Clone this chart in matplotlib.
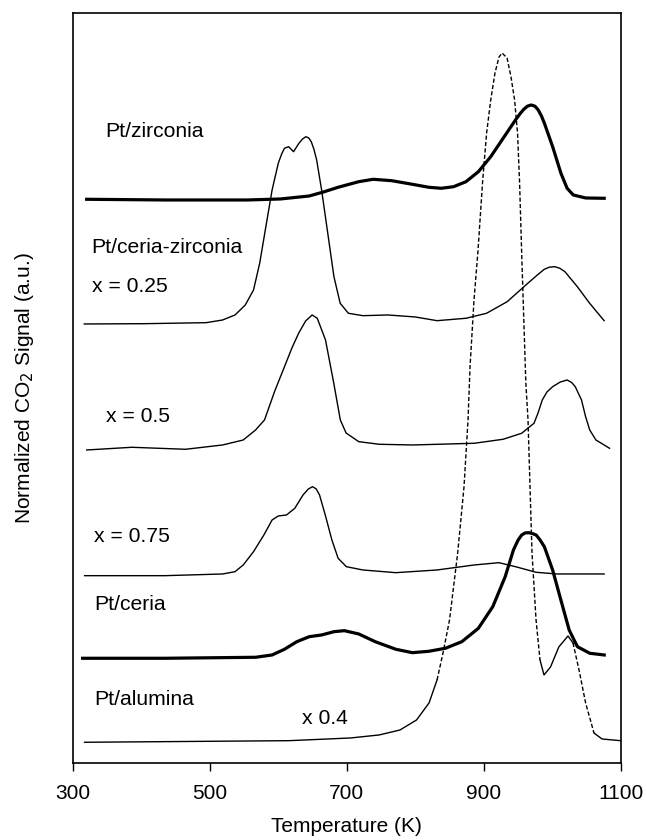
import numpy as np
import matplotlib
matplotlib.use("Agg")
import matplotlib.pyplot as plt

plt.rcParams['font.family'] = ['Liberation Sans', 'DejaVu Sans']

# ---- data (T in K, signal in arbitrary offset units) ----
zr_T = [320.6, 434.8, 555.1, 603.2, 645.3, 666.0, 687.4, 717.5, 738.6, 765.6, 795.7, 819.8,
        837.8, 855.9, 873.9, 892.0, 910.0, 928.1, 946.1, 953.0, 958.2, 963.5, 969.0, 974.5,
        979.3, 984.0, 988.3, 1000.3, 1012.4, 1021.4, 1030.4, 1048.5, 1075.5]
zr_y = [563.7, 563.0, 563.0, 564.0, 567.0, 571.0, 575.7, 581.3, 583.7, 582.3, 578.7, 575.7,
        574.7, 576.3, 581.3, 591.3, 606.3, 624.7, 643.0, 649.5, 653.7, 656.8, 658.0, 656.8,
        653.0, 647.0, 639.7, 616.3, 589.7, 574.7, 568.0, 565.0, 564.7]

cz25_T = [317.1, 404.7, 494.9, 518.9, 537.0, 552.0, 564.0, 573.0, 582.0, 591.1, 600.1, 605.0,
          609.1, 615.1, 622.4, 630.2, 635.5, 640.4, 644.5, 648.2, 652.0, 656.1, 663.3, 672.3,
          681.3, 690.4, 702.4, 723.5, 760.0, 800.0, 831.7, 873.9, 903.9, 934.0, 964.1, 978.0,
          988.1, 995.5, 1003.2, 1010.5, 1018.2, 1036.3, 1054.3, 1075.4]
cz25_y = [439.0, 439.3, 440.3, 443.0, 448.0, 458.0, 473.0, 499.7, 536.3, 573.0, 599.7, 609.0,
          614.7, 616.3, 611.3, 619.7, 624.0, 626.3, 625.0, 621.3, 614.0, 603.0, 573.0, 529.7,
          486.3, 459.7, 449.7, 447.3, 448.0, 446.0, 442.3, 444.7, 449.7, 461.3, 479.7, 488.0,
          493.7, 495.8, 496.3, 494.8, 491.3, 476.3, 459.7, 442.3]

cz50_T = [320.7, 386.6, 464.8, 518.9, 549.0, 567.0, 580.0, 595.0, 609.0, 620.0, 630.0, 640.0,
          649.5, 657.0, 669.0, 681.0, 690.6, 699.0, 717.5, 747.5, 795.7, 885.9, 928.0, 955.1,
          973.1, 979.0, 985.2, 992.0, 1000.3, 1011.0, 1021.3, 1028.0, 1033.3, 1042.4, 1048.4,
          1054.4, 1063.4, 1083.3]
cz50_y = [313.0, 315.7, 313.7, 318.0, 323.0, 333.0, 343.0, 372.0, 396.0, 415.0, 430.0, 442.0,
          448.0, 444.7, 423.0, 380.0, 343.0, 330.0, 321.3, 318.7, 318.0, 319.7, 323.7, 329.7,
          339.7, 350.0, 363.0, 371.0, 376.3, 380.8, 383.0, 380.5, 376.3, 363.0, 346.3,
          333.0, 323.0, 314.7]

cz75_T = [317.6, 434.8, 518.9, 537.0, 549.0, 564.0, 579.1, 591.1, 600.1, 612.1, 624.2, 636.2,
          644.0, 650.1, 655.5, 660.3, 669.3, 678.3, 687.4, 699.4, 723.5, 771.6, 831.7, 885.9,
          922.0, 946.1, 976.1, 1006.2, 1075.4]
cz75_y = [187.3, 187.3, 189.0, 191.3, 198.0, 211.3, 228.0, 243.0, 247.0, 248.0, 254.7, 268.0,
          274.0, 276.3, 274.0, 268.0, 246.3, 223.0, 204.7, 196.3, 193.0, 190.3, 193.0, 198.0,
          200.3, 196.3, 190.7, 189.0, 189.0]

ce_T = [314.7, 434.8, 567.1, 591.1, 609.1, 627.2, 645.3, 663.3, 681.4, 696.4, 717.5, 741.5,
        771.6, 795.7, 819.8, 843.8, 867.9, 892.0, 913.0, 931.1, 943.1, 950.0, 955.2, 960.0,
        965.4, 970.5, 976.2, 982.0, 988.2, 1000.3, 1012.3, 1024.4, 1036.4, 1054.5, 1075.5]
ce_y = [104.7, 104.7, 105.7, 108.0, 113.7, 121.3, 126.3, 128.0, 131.3, 132.3, 129.0, 121.3,
        113.7, 110.3, 111.7, 114.7, 121.3, 134.7, 156.3, 186.3, 213.0, 223.0, 228.0, 230.0,
        230.3, 229.5, 228.0, 223.0, 216.3, 193.0, 163.0, 133.0, 116.3, 109.7, 108.0]

al_T = [317.5, 615.8, 705.5, 747.1, 777.7, 801.8, 820.0, 831.7, 840.4, 849.9, 861.8, 871.0,
        876.9, 879.8, 885.6, 891.5, 898.0, 904.0, 910.0, 916.2, 922.1, 926.5, 933.8, 939.6,
        944.8, 949.1, 952.1, 955.0, 958.1, 961.2, 964.4, 967.3, 970.2, 976.1, 981.9, 987.7,
        997.2, 1009.3, 1022.7, 1030.0, 1038.8, 1048.4, 1060.6, 1072.3, 1099.0]
al_y = [20.7, 22.3, 25.0, 28.0, 33.0, 43.0, 60.0, 83.0, 110.0, 143.0, 210.0, 276.0,
        343.0, 396.0, 463.0, 513.0, 580.0, 630.0, 663.0, 690.0, 706.0, 710.0, 705.0, 686.0,
        663.0, 630.0, 580.0, 513.0, 446.0, 380.0, 343.0, 276.0, 210.0, 143.0, 103.0, 88.0,
        96.0, 116.0, 127.0, 120.0, 93.0, 60.0, 30.0, 24.0, 22.3]

labels = ["Pt/zirconia", "Pt/ceria-zirconia", "x = 0.25", "x = 0.5", "x = 0.75",
          "Pt/ceria", "Pt/alumina", "x 0.4"]
label_T = [347.4, 327.7, 327.7, 349.4, 331.4, 331.4, 331.4, 634.7]
label_y = [631.3, 515.0, 476.3, 346.0, 226.3, 158.7, 63.0, 44.7]

xticks = [300, 500, 700, 900, 1100]

# ---- figure ----
fig = plt.figure(figsize=(6.47, 8.40), dpi=100)
ax = fig.add_axes([0.1121, 0.0917, 0.8477, 0.8932])

thick = 2.3
thin = 1.0
ax.plot(zr_T, zr_y, color='black', lw=thick, solid_joinstyle='round')
ax.plot(cz25_T, cz25_y, color='black', lw=thin)
ax.plot(cz50_T, cz50_y, color='black', lw=thin)
ax.plot(cz75_T, cz75_y, color='black', lw=thin)
ax.plot(ce_T, ce_y, color='black', lw=thick, solid_joinstyle='round')

# Pt/alumina (x 0.4): solid on flat parts, dashed on steep parts, as in the scan
alT = np.array(al_T)
aly = np.array(al_y)
segments = [(0, 7, '-'), (7, 34, 'd'), (34, 39, '-'), (39, 42, 'd'), (42, len(alT) - 1, '-')]
for i0, i1, st in segments:
    ls = '-' if st == '-' else (0, (3, 1.6))
    ax.plot(alT[i0:i1 + 1], aly[i0:i1 + 1], color='black', lw=thin, linestyle=ls)

for s, tx, ty in zip(labels, label_T, label_y):
    ax.text(tx, ty, s, fontsize=15.2, ha='left', va='center', color='black')

ax.set_xlim(300, 1100)
ax.set_ylim(0, 750.3)
ax.set_xticks(xticks)
ax.set_xticklabels([str(t) for t in xticks], fontsize=15)
ax.set_yticks([])
ax.tick_params(axis='x', direction='out', length=5.5, width=1.0, pad=10)
for sp in ax.spines.values():
    sp.set_linewidth(1.2)
    sp.set_color('black')

ax.set_xlabel("Temperature (K)", fontsize=15, labelpad=10)
ax.set_ylabel("Normalized CO$_2$ Signal (a.u.)", fontsize=15, labelpad=26)

fig.savefig("out.png", dpi=100)
